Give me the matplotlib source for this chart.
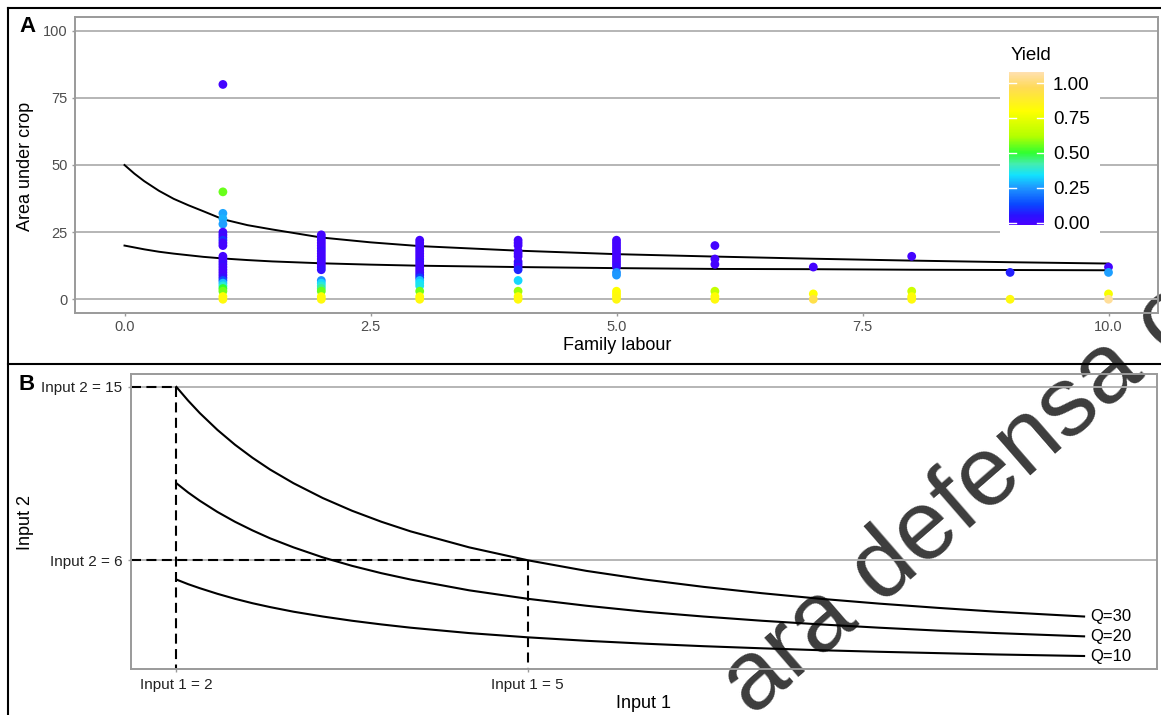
import matplotlib
matplotlib.use("Agg")
import matplotlib.pyplot as plt
from matplotlib.cm import ScalarMappable
from matplotlib.colors import LinearSegmentedColormap, Normalize
from matplotlib.lines import Line2D
from matplotlib.patches import Rectangle

plt.rcParams["font.family"] = ["Liberation Sans", "DejaVu Sans"]

W, H = 1161, 715

# ---- panel A: farms (family labour, area under crop, yield)
labour = (
    [1] * 27 + [2] * 21 + [3] * 21 + [4] * 14 + [5] * 17
    + [6] * 6 + [7] * 3 + [8] * 4 + [9] * 2 + [10] * 4
)
area = (
    [80, 40, 32, 30, 28, 25, 24, 23, 22, 21, 20, 16, 15, 14, 13, 12, 11, 10, 9, 8, 7, 6, 5, 4, 3, 1, 0]
    + [24, 23, 22, 21, 20, 19, 18, 17, 16, 15, 14, 13, 12, 11, 7, 6, 5, 4, 3, 1, 0]
    + [22, 21, 20, 19, 18, 17, 16, 15, 14, 13, 12, 11, 10, 9, 8, 7, 6, 5, 3, 1, 0]
    + [22, 21, 20, 18, 17, 16, 14, 13, 12, 11, 7, 3, 1, 0]
    + [22, 21, 20, 19, 18, 17, 16, 15, 14, 13, 12, 10, 9, 3, 2, 1, 0]
    + [20, 15, 13, 3, 1, 0]
    + [12, 2, 0]
    + [16, 3, 1, 0]
    + [10, 0]
    + [12, 10, 2, 0]
)
yield_ = (
    [0.0, 0.55, 0.27, 0.28, 0.26, 0.0, 0.02, 0.0, 0.1, 0.0, 0.0, 0.0, 0.0, 0.0, 0.02, 0.0, 0.0, 0.0,
     0.0, 0.03, 0.14, 0.3, 0.38, 0.5, 0.56, 0.8, 0.82]
    + [0.0, 0.0, 0.01, 0.0, 0.0, 0.0, 0.02, 0.0, 0.0, 0.0, 0.01, 0.0, 0.0, 0.03, 0.24, 0.33, 0.38,
       0.44, 0.55, 0.8, 0.82]
    + [0.0, 0.0, 0.0, 0.01, 0.0, 0.0, 0.0, 0.0, 0.02, 0.0, 0.0, 0.0, 0.0, 0.03, 0.12, 0.3, 0.34,
       0.36, 0.56, 0.8, 0.82]
    + [0.0, 0.0, 0.0, 0.0, 0.0, 0.0, 0.0, 0.05, 0.0, 0.08, 0.33, 0.6, 0.8, 0.82]
    + [0.0, 0.0, 0.0, 0.0, 0.0, 0.0, 0.0, 0.0, 0.0, 0.0, 0.02, 0.24, 0.25, 0.8, 0.8, 0.82, 0.83]
    + [0.0, 0.0, 0.0, 0.66, 0.8, 0.82]
    + [0.0, 0.8, 0.94]
    + [0.0, 0.68, 0.8, 0.82]
    + [0.07, 0.82]
    + [0.0, 0.26, 0.78, 1.05]
)

# two reference curves drawn through panel A
curve_x = [0, 0.1, 0.2, 0.35, 0.5, 0.65, 0.8, 1, 1.25, 1.5, 2, 2.5, 3, 4, 5, 6, 7, 8, 9, 10]
curve_upper = [50, 46.8, 44.0, 40.4, 37.4, 35.0, 32.8, 29.8, 27.6, 26.0, 23.0, 21.2, 19.8, 18.1,
               16.8, 15.9, 15.1, 14.4, 13.8, 13.3]
curve_lower = [20, 19.3, 18.6, 17.7, 17.0, 16.4, 15.8, 15.2, 14.6, 14.1, 13.4, 12.9, 12.5, 12.0,
               11.6, 11.3, 11.2, 11.0, 10.9, 10.8]

yield_ticks = [0.0, 0.25, 0.5, 0.75, 1.0]
cmap_values = [-0.0165, 0.05, 0.13, 0.25, 0.34, 0.42, 0.5, 0.62, 0.8, 0.97, 1.081]
cmap_colours = ["#4A00FF", "#2A12FF", "#0A48FF", "#1E98FF", "#12E2FF", "#44ECB0",
                "#30FF30", "#B4FF00", "#FFFF00", "#FFDA58", "#FFE0B2"]

# ---- panel B: isoquants
input1 = [2, 2.1, 2.2, 2.35, 2.5, 2.65, 2.8, 3, 3.25, 3.5, 3.75, 4, 4.5, 5, 5.5, 6, 6.5, 7,
          7.5, 8, 8.5, 9, 9.75]
q30 = [15, 14.29, 13.64, 12.77, 12, 11.32, 10.71, 10, 9.23, 8.57, 8, 7.5, 6.67, 6, 5.45, 5,
       4.62, 4.29, 4, 3.75, 3.53, 3.33, 3.08]
q20 = [10, 9.52, 9.09, 8.51, 8, 7.55, 7.14, 6.67, 6.15, 5.71, 5.33, 5, 4.44, 4, 3.64, 3.33,
       3.08, 2.86, 2.67, 2.5, 2.35, 2.22, 2.05]
q10 = [5, 4.76, 4.55, 4.26, 4, 3.77, 3.57, 3.33, 3.08, 2.86, 2.67, 2.5, 2.22, 2, 1.82, 1.67,
       1.54, 1.43, 1.33, 1.25, 1.18, 1.11, 1.03]
q_labels = ["Q=30", "Q=20", "Q=10"]
guide_x = [2, 5]
guide_y = [15, 6]


def fx(px):
    return px / W


def fy(py):
    return 1 - py / H


def style_axes(ax):
    ax.set_facecolor("none")
    for s in ax.spines.values():
        s.set_color("#9a9a9a")
        s.set_linewidth(1.4)
    ax.grid(axis="y", color="#b0b0b0", linewidth=1.3)
    ax.grid(axis="x", visible=False)
    ax.set_axisbelow(True)
    ax.tick_params(length=2.5, width=1.0, color="#9a9a9a", pad=3)


fig = plt.figure(figsize=(W / 100, H / 100), dpi=100)

# ---------------- panel A
axA = fig.add_axes([fx(75.3), fy(312.7), fx(1157.7 - 75.3), (312.7 - 17.3) / H])
style_axes(axA)
positions = [(v - cmap_values[0]) / (cmap_values[-1] - cmap_values[0]) for v in cmap_values]
cmap = LinearSegmentedColormap.from_list("yield", list(zip(positions, cmap_colours)))
norm = Normalize(vmin=cmap_values[0], vmax=cmap_values[-1])

axA.plot(curve_x, curve_upper, color="black", lw=1.4, zorder=2)
axA.plot(curve_x, curve_lower, color="black", lw=1.4, zorder=2)
axA.scatter(labour, area, c=yield_, cmap=cmap, norm=norm, s=40, linewidths=0, zorder=3)
axA.set_xlim(-0.5, 10.5)
axA.set_ylim(-5, 105)
axA.set_xticks([0, 2.5, 5, 7.5, 10])
axA.set_xticklabels(["0.0", "2.5", "5.0", "7.5", "10.0"])
axA.set_yticks([0, 25, 50, 75, 100])
axA.tick_params(labelsize=10.5, labelcolor="#4d4d4d")

# legend background hides the grid
axA.add_patch(Rectangle((fx(1000), fy(240)), fx(100), (240 - 40) / H, transform=fig.transFigure,
                        facecolor="white", edgecolor="none", zorder=1.5, clip_on=False))
cax = fig.add_axes([fx(1009), fy(225), fx(35), (225 - 71.7) / H], zorder=3)
cb = fig.colorbar(ScalarMappable(norm=norm, cmap=cmap), cax=cax, ticks=yield_ticks)
cb.outline.set_visible(False)
cb.ax.set_yticklabels(["0.00", "0.25", "0.50", "0.75", "1.00"])
cb.ax.tick_params(length=0, labelsize=13.5, pad=6.5)
for t in yield_ticks:
    cax.axhline(t, 0, 0.2, color="white", lw=1)
    cax.axhline(t, 0.8, 1, color="white", lw=1)
fig.text(fx(1011), fy(56), "Yield", fontsize=13.5, ha="left", va="center")

fig.text(fx(617), fy(346), "Family labour", fontsize=13, ha="center", va="center")
fig.text(fx(25), fy(166), "Area under crop", fontsize=13, rotation=90, ha="center", va="center")
fig.text(fx(19), fy(27), "A", fontsize=16, fontweight="bold", ha="left", va="center")

# ---------------- panel B
axB = fig.add_axes([fx(131.3), fy(669.3), fx(1156.7 - 131.3), (669.3 - 374) / H])
style_axes(axB)
for q in (q30, q20, q10):
    axB.plot(input1, q, color="black", lw=1.5, zorder=3)
for q, lab in zip((q30, q20, q10), q_labels):
    axB.text(input1[-1] + 0.05, q[-1], lab, fontsize=12, ha="left", va="center")

x0 = 1.615
dash = dict(color="black", lw=1.5, linestyle=(0, (4.8, 2.6)), zorder=2)
for gx, gy in zip(guide_x, guide_y):
    axB.plot([x0, gx], [gy, gy], **dash)
    axB.plot([gx, gx], [gy, 0.34], **dash)
axB.set_xlim(x0, 10.37)
axB.set_ylim(0.34, 15.67)
axB.set_xticks(guide_x)
axB.set_xticklabels(["Input 1 = %d" % v for v in guide_x])
axB.set_yticks(guide_y)
axB.set_yticklabels(["Input 2 = %d" % v for v in guide_y])
axB.tick_params(labelsize=11, labelcolor="#222222", pad=4)

fig.text(fx(643), fy(703), "Input 1", fontsize=13, ha="center", va="center")
fig.text(fx(26), fy(523), "Input 2", fontsize=13, rotation=90, ha="center", va="center")
fig.text(fx(19), fy(384), "B", fontsize=16, fontweight="bold", ha="left", va="center")

# ---------------- frame lines
for xs, ys in [((7.5, W), (7.5, 7.5)), ((7.5, W), (364, 364)), ((7.5, 7.5), (7.5, H))]:
    fig.add_artist(Line2D([fx(v) for v in xs], [fy(v) for v in ys], color="black", lw=1.5))

# watermark, cut by the page edges
fig.text(fx(752), fy(717), "ara defensa o", fontsize=71, rotation=41, rotation_mode="anchor",
         ha="left", va="baseline", color="#3c3c3c", zorder=-1)

fig.savefig("out.png", dpi=100)
